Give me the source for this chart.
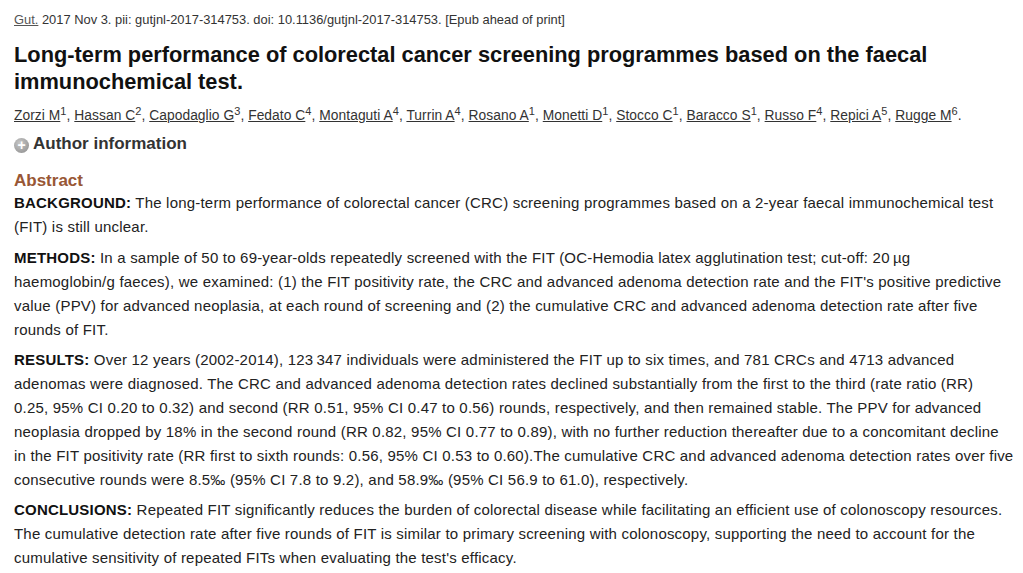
<!DOCTYPE html>
<html><head><meta charset="utf-8">
<script src="https://cdn.jsdelivr.net/npm/d3@7"></script>
<script src="https://cdn.jsdelivr.net/npm/@observablehq/plot@0.6"></script>
<style>
html,body{margin:0;padding:0;background:#fff;}
body{width:1023px;height:573px;position:relative;overflow:hidden;font-family:"Liberation Sans",Arial,sans-serif;color:#222;}
.blk{position:absolute;left:14px;white-space:nowrap;}
.cite{font-size:12.9px;line-height:16px;color:#333;}
.cite u{color:#555;}
.title{font-size:21.8px;font-weight:bold;line-height:27px;color:#111;}
.auth{font-size:13.8px;line-height:16px;color:#333;letter-spacing:0.05px;}
.auth u{text-decoration:underline;}
.auth sup{font-size:11px;line-height:0;vertical-align:5px;}
.ainfo{font-size:17px;font-weight:bold;color:#333;line-height:20px;}
.abs{font-size:17px;font-weight:bold;color:#985735;line-height:20px;}
.body{font-size:15px;line-height:24px;color:#222;letter-spacing:0.2px;}
.body b{color:#111;}
.plus{display:inline-block;width:15px;height:15px;border-radius:50%;background:radial-gradient(circle at 40% 35%,#c8c8c8,#8a8a8a);color:#fff;font-size:14px;line-height:15px;text-align:center;margin-right:4px;vertical-align:-1px;font-weight:bold;}
</style></head>
<body>
<script>
const citation = ["Gut.", " 2017 Nov 3. pii: gutjnl-2017-314753. doi: 10.1136/gutjnl-2017-314753. [Epub ahead of print]"];
const titleLines = ["Long-term performance of colorectal cancer screening programmes based on the faecal", "immunochemical test."];
const authors = ["Zorzi M","Hassan C","Capodaglio G","Fedato C","Montaguti A","Turrin A","Rosano A","Monetti D","Stocco C","Baracco S","Russo F","Repici A","Rugge M"];
const affiliations = [1,2,3,4,4,4,1,1,1,1,4,5,6];
const sectionLabels = ["BACKGROUND:","METHODS:","RESULTS:","CONCLUSIONS:"];
const sectionLines = [
 ["The long-term performance of colorectal cancer (CRC) screening programmes based on a 2-year faecal immunochemical test",
  "(FIT) is still unclear."],
 ["In a sample of 50 to 69-year-olds repeatedly screened with the FIT (OC-Hemodia latex agglutination test; cut-off: 20\u202Fµg",
  "haemoglobin/g faeces), we examined: (1) the FIT positivity rate, the CRC and advanced adenoma detection rate and the FIT's positive predictive",
  "value (PPV) for advanced neoplasia, at each round of screening and (2) the cumulative CRC and advanced adenoma detection rate after five",
  "rounds of FIT."],
 ["Over 12 years (2002-2014), 123\u202F347 individuals were administered the FIT up to six times, and 781 CRCs and 4713 advanced",
  "adenomas were diagnosed. The CRC and advanced adenoma detection rates declined substantially from the first to the third (rate ratio (RR)",
  "0.25, 95% CI 0.20 to 0.32) and second (RR 0.51, 95% CI 0.47 to 0.56) rounds, respectively, and then remained stable. The PPV for advanced",
  "neoplasia dropped by 18% in the second round (RR 0.82, 95% CI 0.77 to 0.89), with no further reduction thereafter due to a concomitant decline",
  "in the FIT positivity rate (RR first to sixth rounds: 0.56, 95% CI 0.53 to 0.60).The cumulative CRC and advanced adenoma detection rates over five",
  "consecutive rounds were 8.5‰ (95% CI 7.8 to 9.2), and 58.9‰ (95% CI 56.9 to 61.0), respectively."],
 ["Repeated FIT significantly reduces the burden of colorectal disease while facilitating an efficient use of colonoscopy resources.",
  "The cumulative detection rate after five rounds of FIT is similar to primary screening with colonoscopy, supporting the need to account for the",
  "cumulative sensitivity of repeated FITs when evaluating the test's efficacy."]
];
const sectionTops = [191, 246, 348, 498];

function esc(s){return s.replace(/&/g,"&amp;").replace(/</g,"&lt;");}
function add(cls, top, html){
  const d = document.createElement("div");
  d.className = "blk " + cls; d.style.top = top + "px"; d.innerHTML = html;
  document.body.appendChild(d);
}
add("cite", 12, `<u>${esc(citation[0])}</u>${esc(citation[1])}`);
add("title", 41, titleLines.map(esc).join("<br>"));
add("auth", 108, authors.map((a,i)=>`<u>${esc(a)}</u><sup>${affiliations[i]}</sup>`).join(", ") + ".");
add("ainfo", 134, `<span class="plus">+</span>Author information`);
add("abs", 171, "Abstract");
sectionLabels.forEach((lab,i)=>{
  const lines = sectionLines[i].map(esc);
  lines[0] = `<b>${esc(lab)}</b> ` + lines[0];
  add("body", sectionTops[i], lines.join("<br>"));
});
</script>
</body></html>
